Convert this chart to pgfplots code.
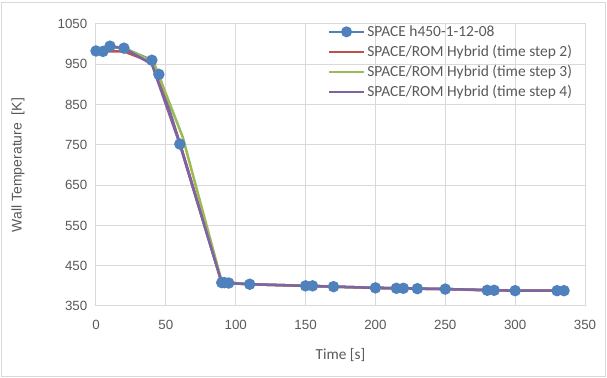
\documentclass[border=0pt]{standalone}
\usepackage{pgfplots}
\pgfplotsset{compat=1.18}
\usepackage{fontspec}
\setmainfont{Carlito}
\newfontfamily\arialf{Liberation Sans}
\definecolor{cblue}{HTML}{4F81BD}
\definecolor{cred}{HTML}{C0504D}
\definecolor{cgreen}{HTML}{9BBB59}
\definecolor{cpurp}{HTML}{8064A2}
\definecolor{gridc}{HTML}{D9D9D9}
\definecolor{txt}{HTML}{595959}
\begin{document}
\begin{tikzpicture}
\path[use as bounding box] (0pt,0pt) rectangle (455.25pt,283.5pt);
\draw[gridc, line width=0.75pt] (1pt,1pt) rectangle (454.25pt,281.5pt);
\begin{axis}[
  at={(72pt,54pt)}, anchor=south west,
  scale only axis, width=366.75pt, height=211.5pt,
  xmin=0, xmax=350, ymin=350, ymax=1050,
  xtick={0,50,...,350}, ytick={350,450,...,1050},
  grid=major, grid style={gridc, line width=0.75pt},
  axis line style={gridc, line width=0.75pt},
  tick style={draw=none},
  ticklabel style={font=\arialf\fontsize{10}{12}\selectfont, text=txt},
  yticklabel style={xshift=-3pt},
  xticklabel style={yshift=-7pt},
  /pgf/number format/assume math mode=true,
  /pgf/number format/1000 sep={},
  xlabel={Time [s]}, ylabel={Wall Temperature\ \ [K]},
  xlabel style={font=\fontsize{11.5}{13}\selectfont, text=txt, yshift=-7pt},
  ylabel style={font=\arialf\fontsize{10.5}{12}\selectfont, text=txt, yshift=18pt},
  legend style={at={(0.472,1.01)}, anchor=north west, draw=none, fill=none,
    font=\fontsize{11.6}{14}\selectfont, text=txt, row sep=1.1pt,
    inner sep=1pt},
  legend cell align=left,
  legend image code/.code={\draw[mark repeat=2,mark phase=2,#1]
     plot coordinates {(0cm,0cm) (0.45cm,0cm) (0.9cm,0cm)};},
  legend image post style={line width=1.6pt},
]
\addplot[cblue, line width=1.9pt, mark=*, mark size=3.3pt] coordinates {
(0,983) (5,982) (10,995) (20,990) (40,960) (45,925) (60,752) (90,408) (92,408)
(95,407) (110,404) (150,400) (155,400) (170,398) (200,395) (215,394) (220,394)
(230,393) (250,392) (280,389) (285,389) (300,388) (330,388) (335,388)};
\addlegendentry{SPACE h450-1-12-08}
\addplot[cred, line width=1.9pt] coordinates {
(0,983) (5,982) (10,982) (20,982) (40,955) (60,755) (90,408) (110,404)
(150,400) (200,395) (250,392) (300,388) (335,388)};
\addlegendentry{SPACE/ROM Hybrid (time step 2)}
\addplot[cgreen, line width=1.9pt] coordinates {
(0,983) (10,993) (20,990) (41,957) (62,770) (90,410) (110,404)
(150,400) (200,395) (250,392) (300,388) (335,388)};
\addlegendentry{SPACE/ROM Hybrid (time step 3)}
\addplot[cpurp, line width=1.9pt] coordinates {
(0,983) (10,994) (20,990) (40,950) (60,752) (90,408) (110,404)
(150,400) (200,395) (250,392) (300,388) (335,388)};
\addlegendentry{SPACE/ROM Hybrid (time step 4)}
\end{axis}
\end{tikzpicture}
\end{document}
